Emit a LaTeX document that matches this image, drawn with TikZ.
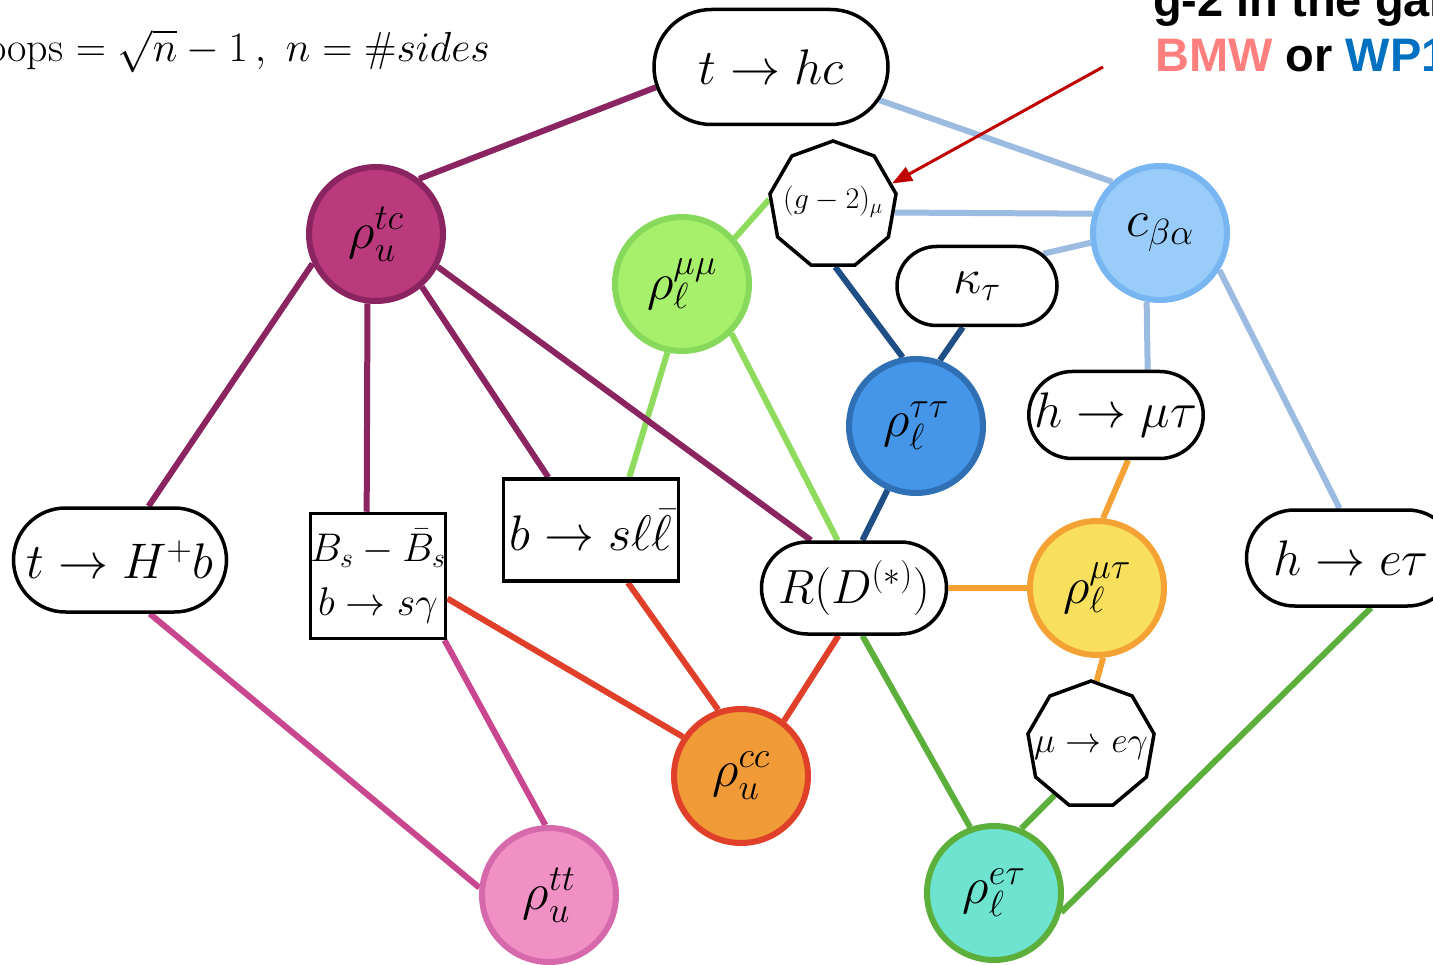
\RequirePackage{fix-cm}
\documentclass[tikz,border=0pt]{standalone}
\usepackage{fontspec}
\setsansfont{Liberation Sans}
\usetikzlibrary{shapes.misc,shapes.geometric,backgrounds,arrows.meta}
\definecolor{cPur}{HTML}{8B2562}
\definecolor{cTcF}{HTML}{BB3A7D}
\definecolor{cLG}{HTML}{8EDB5E}
\definecolor{cMmF}{HTML}{A6F06C}
\definecolor{cMmD}{HTML}{86D95A}
\definecolor{cLB}{HTML}{9BBCE0}
\definecolor{cBaF}{HTML}{9ACCFA}
\definecolor{cBaD}{HTML}{78B6F2}
\definecolor{cDB}{HTML}{1F4E85}
\definecolor{cTtF}{HTML}{4595E8}
\definecolor{cTtD}{HTML}{2F6FB3}
\definecolor{cOr}{HTML}{F4A234}
\definecolor{cMtF}{HTML}{F8E05C}
\definecolor{cRd}{HTML}{E0402A}
\definecolor{cCcF}{HTML}{F09A38}
\definecolor{cPk}{HTML}{C9478F}
\definecolor{cUuF}{HTML}{F090C5}
\definecolor{cUuD}{HTML}{D569AB}
\definecolor{cGr}{HTML}{5BAF3A}
\definecolor{cEtF}{HTML}{6DE3D0}
\definecolor{cArr}{HTML}{C00000}
\definecolor{cBMW}{HTML}{FF7F7F}
\definecolor{cWP}{HTML}{0070C0}
\newcommand{\zbox}[1]{\smash{\makebox[0pt]{#1}}}
\begin{document}
\begin{tikzpicture}[x=1pt,y=-1pt,
  every node/.style={inner sep=0pt},
  blob/.style={circle, line width=6pt, minimum size=134pt, font=\fontsize{52}{60}\selectfont},
  pill/.style={rounded rectangle, draw=black, fill=white, line width=3.5pt, font=\fontsize{50}{60}\selectfont},
  boxnode/.style={rectangle, draw=black, fill=white, line width=3.5pt, font=\fontsize{50}{60}\selectfont},
  nona/.style={regular polygon, regular polygon sides=9, draw=black, fill=white, line width=3.5pt, minimum size=128pt},
  edge/.style={line width=6pt}]
\useasboundingbox (0,0) rectangle (1433,965);
% nodes
\node[pill, minimum width=234pt, minimum height=115pt] (thc) at (771,67) {$t\to hc$};
\node[blob, fill=cTcF, draw=cPur] (rtc) at (376,234) {$\rho_u^{tc}$};
\node[nona, font=\fontsize{30}{36}\selectfont] (g2) at (833,205) {\zbox{\raisebox{-0.3ex}{$(g-2)_\mu$}}};
\node[blob, fill=cMmF, draw=cMmD] (rmm) at (682,284) {$\rho_\ell^{\mu\mu}$};
\node[blob, fill=cBaF, draw=cBaD] (cba) at (1160,233) {$c_{\beta\alpha}$};
\node[pill, minimum width=160pt, minimum height=79pt] (kap) at (977,286) {$\kappa_\tau$};
\node[blob, fill=cTtF, draw=cTtD] (rtt) at (916,426) {$\rho_\ell^{\tau\tau}$};
\node[pill, minimum width=174pt, minimum height=87pt] (hmt) at (1116,415) {$h\to\mu\tau$};
\node[pill, minimum width=213pt, minimum height=104pt] (thb) at (120,560) {$t\to H^+b$};
\node[boxnode, minimum width=135pt, minimum height=125pt, align=center, font=\fontsize{40}{54}\selectfont] (bs) at (378,576) {$B_s-\bar B_s$\\$b\to s\gamma$};
\node[boxnode, minimum width=175pt, minimum height=102pt] (bsl) at (591,530) {$b\to s\ell\bar\ell$};
\node[pill, minimum width=185pt, minimum height=92pt, font=\fontsize{48}{58}\selectfont] (rd) at (854,588) {$R(D^{(*)})$};
\node[blob, fill=cMtF, draw=cOr] (rmt) at (1097,588) {$\rho_\ell^{\mu\tau}$};
\node[pill, minimum width=209pt, minimum height=96pt] (het) at (1351,558) {$h\to e\tau$};
\node[nona, font=\fontsize{36}{42}\selectfont] (meg) at (1091,745) {\zbox{\raisebox{-0.5ex}{$\mu\to e\gamma$}}};
\node[blob, fill=cCcF, draw=cRd] (rcc) at (741,776) {$\rho_u^{cc}$};
\node[blob, fill=cUuF, draw=cUuD] (ruu) at (549,895) {$\rho_u^{tt}$};
\node[blob, fill=cEtF, draw=cGr] (ret) at (994,893) {$\rho_\ell^{e\tau}$};
% texts
\node[anchor=base east, font=\fontsize{42}{50}\selectfont] (loops) at (490,62) {Loops $=\sqrt{n}-1\,,\ n=\#sides$};
\node[anchor=base west, font=\fontsize{47}{56}\sffamily\bfseries] (gtwo) at (1153,17) {g-2 in the game};
\node[anchor=base west, font=\fontsize{47}{56}\sffamily\bfseries] (bmw) at (1155,72) {\textcolor{cBMW}{BMW} or \textcolor{cWP}{WP1}};
\coordinate (arrs) at (1103,67);
\draw[cArr, line width=3pt, -{Triangle[length=20pt, width=15pt]}] (arrs) -- (g2.20);
% edges
\begin{scope}[on background layer]
\draw[edge, cPur] (thc.190) -- (rtc.52);
\draw[edge, cLB] (thc.-17) -- (cba.133);
\draw[edge, cLB] (g2.-7) -- (cba.164);
\draw[edge, cLB] (kap.26) -- (cba.188);
\draw[edge, cLB] (cba.259) -- (hmt.55);
\draw[edge, cLB] (cba.-32) -- (het.103);
\draw[edge, cLG] (rmm.41) -- (g2.175);
\draw[edge, cDB] (g2.272) -- (rtt.101);
\draw[edge, cDB] (kap.251) -- (rtt.70);
\draw[edge, cDB] (rtt.246) -- (rd.80);
\draw[edge, cLG] (rmm.258) -- (bsl.54);
\draw[edge, cLG] (rmm.-45) -- (rd.109);
\draw[edge, cPur] (rtc.205) -- (thb.62);
\draw[edge, cPur] (rtc.263) -- (bs.100);
\draw[edge, cPur] (rtc.311) -- (bsl.129);
\draw[edge, cPur] (rtc.332) -- (rd.132);
\draw[edge, cPk] (thb.299) -- (ruu.174);
\draw[edge, cPk] (bs.-44) -- (ruu.93);
\draw[edge, cRd] (bs.-18) -- (rcc.146);
\draw[edge, cRd] (bsl.305) -- (rcc.109);
\draw[edge, cRd] (rd.252) -- (rcc.52);
\draw[edge, cOr] (rd.0) -- (rmt.180);
\draw[edge, cOr] (hmt.285) -- (rmt.85);
\draw[edge, cOr] (rmt.275) -- (meg.85);
\draw[edge, cGr] (rd.280) -- (ret.110);
\draw[edge, cGr] (meg.234) -- (ret.67);
\draw[edge, cGr] (het.292) -- (ret.-16);
\end{scope}
\end{tikzpicture}
\end{document}
